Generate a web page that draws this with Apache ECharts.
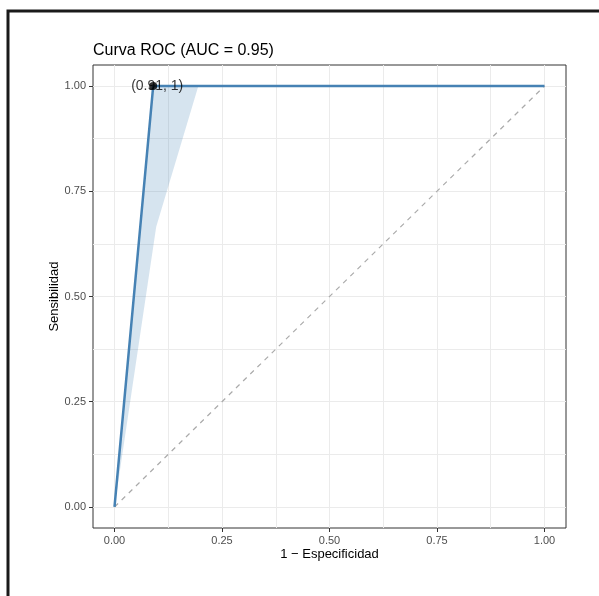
<!DOCTYPE html>
<html>
	<head>
		<meta charset="utf-8">
		<title></title>
	</head>
	<style type="text/css">
		html, body { margin: 0; padding: 0; background: #fff; }
		#graphical { width: 599px; height: 596px; }
	</style>
	<body>
		<div id="graphical"></div>
		<script src="https://cdn.jsdelivr.net/npm/echarts@6/dist/echarts.min.js" type="text/javascript" charset="utf-8"></script>
		<script type="text/javascript">
			// curva ROC
			var rocX = [0, 0.09, 1];
			var rocY = [0, 1, 1];
			// banda de confianza (poligono)
			var bandX = [0, 0.09, 0.195, 0.097, 0];
			var bandY = [0, 1, 1, 0.666, 0];
			// punto optimo
			var bestPoint = [0.09, 1];
			var bestLabel = '(0.91, 1)';
			var diagX = [0, 1];
			var diagY = [0, 1];
			var majorTicks = [0, 0.25, 0.5, 0.75, 1];
			var gridTicks = [0, 0.125, 0.25, 0.375, 0.5, 0.625, 0.75, 0.875, 1];

			function pairs(xs, ys) {
				var out = [];
				for (var i = 0; i < xs.length; i++) out.push([xs[i], ys[i]]);
				return out;
			}

			var chart = echarts.init(document.getElementById('graphical'));

			function gridAxis(extra) {
				var a = {
					type: 'value',
					min: -0.05,
					max: 1.05,
					axisLine: { show: false, onZero: false },
					axisTick: { show: false, customValues: gridTicks },
					axisLabel: { show: false },
					splitLine: { show: true, lineStyle: { color: '#ebebeb', width: 1 } }
				};
				for (var k in extra) a[k] = extra[k];
				return a;
			}

			function labelAxis(extra) {
				var a = {
					type: 'value',
					min: -0.05,
					max: 1.05,
					axisLine: { show: false, onZero: false },
					axisTick: { show: true, customValues: majorTicks, length: 4, lineStyle: { color: '#333', width: 1 } },
					axisLabel: {
						customValues: majorTicks,
						color: '#4d4d4d',
						fontSize: 11,
						margin: 7,
						fontFamily: 'Liberation Sans',
						formatter: function(v) { return v.toFixed(2); }
					},
					splitLine: { show: false },
					nameLocation: 'middle',
					nameMoveOverlap: false,
					nameTextStyle: { color: '#000', fontSize: 13, fontFamily: 'Liberation Sans' }
				};
				for (var k in extra) a[k] = extra[k];
				return a;
			}

			var option = {
				animation: false,
				title: {
					text: 'Curva ROC (AUC = 0.95)',
					left: 88,
					top: 38,
					textStyle: { color: '#000', fontSize: 16, fontWeight: 'normal', fontFamily: 'Liberation Sans' }
				},
				graphic: [{
					type: 'polyline',
					shape: { points: [[8, 596], [8, 11], [599, 11]] },
					style: { stroke: '#1a1a1a', lineWidth: 3, fill: null }
				}],
				grid: {
					left: 93,
					right: 33,
					top: 65,
					bottom: 68,
					show: true,
					borderColor: '#333',
					borderWidth: 1,
					backgroundColor: 'transparent'
				},
				xAxis: [
					gridAxis({}),
					labelAxis({ position: 'bottom', name: '1 − Especificidad', nameGap: 20 })
				],
				yAxis: [
					gridAxis({}),
					labelAxis({ position: 'left', name: 'Sensibilidad', nameGap: 32 })
				],
				series: [{
					type: 'custom',
					xAxisIndex: 0,
					yAxisIndex: 0,
					data: [0],
					renderItem: function(params, api) {
						var pts = pairs(bandX, bandY).map(function(p) { return api.coord(p); });
						return {
							type: 'polygon',
							shape: { points: pts },
							style: { fill: 'rgba(70,130,180,0.22)', stroke: null }
						};
					},
					z: 1
				}, {
					type: 'line',
					data: pairs(diagX, diagY),
					symbol: 'none',
					lineStyle: { color: '#aaaaaa', width: 1.2, type: [5, 5] },
					z: 2
				}, {
					type: 'line',
					data: pairs(rocX, rocY),
					symbol: 'none',
					lineStyle: { color: '#4682b4', width: 2.5 },
					z: 3
				}, {
					type: 'scatter',
					data: [bestPoint],
					symbolSize: 8,
					itemStyle: { color: '#000' },
					label: {
						show: true,
						position: 'inside',
						offset: [4, 0],
						formatter: bestLabel,
						color: '#000',
						fontSize: 14,
						fontFamily: 'Liberation Sans'
					},
					z: 4
				}]
			};
			chart.setOption(option);
		</script>
	</body>
</html>
